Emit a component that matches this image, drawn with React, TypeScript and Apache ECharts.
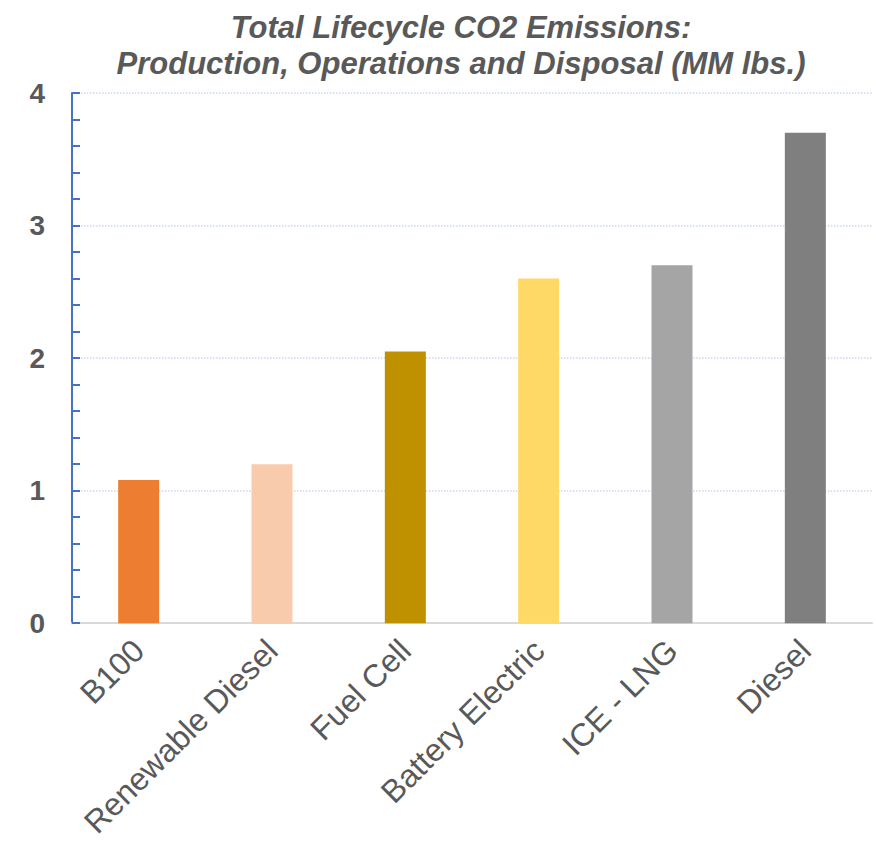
import React, { useEffect, useRef } from "react";
import * as echarts from "echarts";

const categories = ["B100", "Renewable Diesel", "Fuel Cell", "Battery Electric", "ICE - LNG", "Diesel"];
const values = [1.08, 1.2, 2.05, 2.6, 2.7, 3.7];
const barColors = ["#ED7D31", "#F8CBAD", "#BF9000", "#FFD966", "#A5A5A5", "#7F7F7F"];
const titleLines = ["Total Lifecycle CO2 Emissions:", "Production, Operations and Disposal (MM lbs.)"];

export default function App() {
  const ref = useRef<HTMLDivElement>(null);
  useEffect(() => {
    if (!ref.current) return;
    const chart = echarts.init(ref.current, null, { renderer: "svg" });
    chart.setOption({
      animation: false,
      backgroundColor: "#ffffff",
      title: {
        text: titleLines.join("\n"),
        left: 456,
        top: 4,
        textAlign: "center",
        textStyle: {
          fontFamily: "Liberation Sans, Arial, sans-serif",
          fontSize: 31,
          fontWeight: "bold",
          fontStyle: "italic",
          color: "#595959",
          lineHeight: 36,
        },
      },
      grid: { left: 72, right: 4, top: 93, bottom: 217, containLabel: false },
      xAxis: {
        type: "category",
        data: categories,
        axisLine: { show: true, lineStyle: { color: "#D9D9D9", width: 2 } },
        axisTick: { show: false },
        axisLabel: {
          rotate: 45,
          interval: 0,
          margin: 22,
          color: "#595959",
          fontSize: 32,
          fontFamily: "Liberation Sans, Arial, sans-serif",
        },
      },
      yAxis: {
        type: "value",
        min: 0,
        max: 4,
        interval: 1,
        axisLine: { show: true, lineStyle: { color: "#4472C4", width: 2 } },
        axisTick: { show: true, inside: true, length: 8, lineStyle: { color: "#4472C4", width: 2 } },
        minorTick: { show: true, splitNumber: 5, length: 8, lineStyle: { color: "#4472C4", width: 2 } },
        splitLine: { show: true, lineStyle: { color: "#CCD8EF", type: "dotted", width: 1.5 } },
        axisLabel: {
          margin: 27,
          color: "#595959",
          fontSize: 28,
          fontWeight: "bold",
          fontFamily: "Liberation Sans, Arial, sans-serif",
        },
      },
      series: [
        {
          type: "bar",
          barWidth: 41,
          data: values.map((v, i) => ({ value: v, itemStyle: { color: barColors[i] } })),
          z: 3,
        },
      ],
    });
    return () => chart.dispose();
  }, []);
  return <div ref={ref} style={{ position: "absolute", left: 0, top: 0, width: 876, height: 841 }} />;
}
